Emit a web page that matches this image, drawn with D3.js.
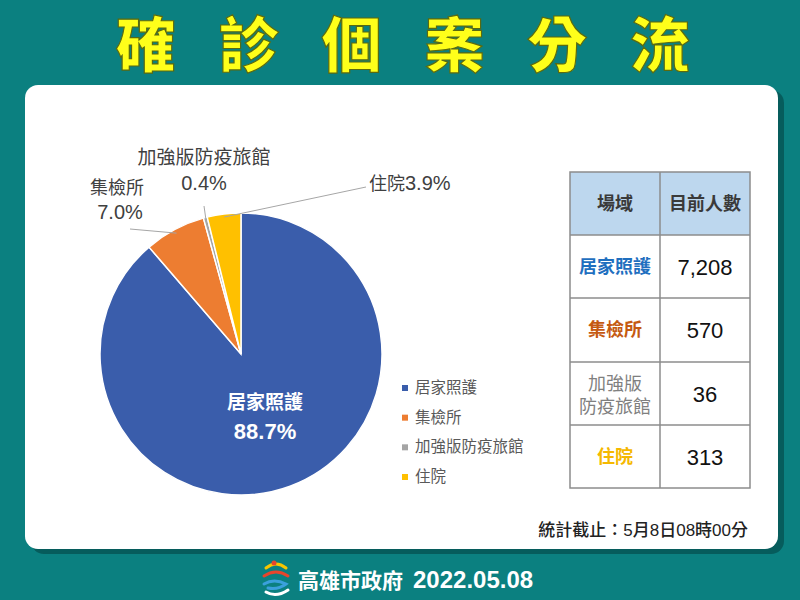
<!DOCTYPE html>
<html><head><meta charset="utf-8">
<script src="https://cdn.jsdelivr.net/npm/d3@7"></script>
<style>
body{margin:0;padding:0;background:#0b8080;}
svg{display:block;}
text{font-family:"Liberation Sans","Noto Sans CJK TC",sans-serif;}
</style></head>
<body>
<svg id="chart" width="800" height="600"></svg>
<script>
const categories = ["居家照護","集檢所","加強版防疫旅館","住院"];
const values = [7208, 570, 36, 313];
const percentLabels = ["88.7%","7.0%","0.4%","3.9%"];
const colors = ["#3a5dab","#ed7d31","#a5a5a5","#ffc000"];
const tableLabelColors = ["#1f6fbf","#c55a11","#7f7f7f","#f5b800"];
const tableHeaders = ["場域","目前人數"];
const titleText = "確診個案分流";
const noteText = "統計截止：5月8日08時00分";
const footerName = "高雄市政府";
const footerDate = "2022.05.08";

const svg = d3.select("#chart");
svg.append("rect").attr("width",800).attr("height",600).attr("fill","#0b8080");

// title
const titleChars = Array.from(titleText);
const tx = d3.scaleLinear().domain([0,titleChars.length-1]).range([146,660]);
svg.append("g").selectAll("text").data(titleChars).join("text")
  .attr("x",(d,i)=>tx(i)).attr("y",67)
  .attr("text-anchor","middle")
  .attr("font-family","Noto Sans CJK TC")
  .attr("font-size",60).attr("font-weight",900)
  .attr("fill","#ffff1a").attr("stroke","#5a6a10").attr("stroke-width",1.2)
  .text(d=>d);

// card shadow + card
svg.append("rect").attr("x",31).attr("y",90).attr("width",753).attr("height",464).attr("rx",13).attr("fill","#065c5c");
svg.append("rect").attr("x",25).attr("y",85).attr("width",753).attr("height",464).attr("rx",13).attr("fill","#ffffff");

// pie
const cx=241, cy=354, R=141;
const pie = d3.pie().sort(null).value(d=>d)(values);
const arc = d3.arc().innerRadius(0).outerRadius(R);
const g = svg.append("g").attr("transform",`translate(${cx},${cy})`);
g.selectAll("path").data(pie).join("path")
  .attr("d",arc).attr("fill",(d,i)=>colors[i])
  .attr("stroke","#fff").attr("stroke-width",1.5);

// inner label
g.append("text").attr("x",24).attr("y",55).attr("text-anchor","middle")
  .attr("font-size",19).attr("font-weight",700).attr("fill","#fff").text(categories[0]);
g.append("text").attr("x",24).attr("y",85).attr("text-anchor","middle")
  .attr("font-size",22).attr("font-weight",700).attr("fill","#fff").text(percentLabels[0]);

// leader lines
const pt = (i,r)=>{const a=(pie[i].startAngle+pie[i].endAngle)/2; return [cx+Math.sin(a)*r, cy-Math.cos(a)*r];};
const lineCol="#a6a6a6";
{
  const p=pt(1,R-4);
  svg.append("polyline").attr("points",`130,229 ${p[0]},${p[1]}`).attr("fill","none").attr("stroke",lineCol).attr("stroke-width",1);
  const q=pt(2,R-3);
  svg.append("polyline").attr("points",`204,206 ${q[0]},${q[1]}`).attr("fill","none").attr("stroke",lineCol).attr("stroke-width",1);
  const s=pt(3,R-3);
  svg.append("polyline").attr("points",`366,187 ${s[0]},${s[1]}`).attr("fill","none").attr("stroke",lineCol).attr("stroke-width",1);
}

// outside labels
const lab = svg.append("g").attr("fill","#404040").attr("font-size",19);
lab.append("text").attr("x",204).attr("y",164).attr("text-anchor","middle").text(categories[2]);
lab.append("text").attr("x",204).attr("y",190).attr("text-anchor","middle").attr("font-size",20).text(percentLabels[2]);
lab.append("text").attr("x",117).attr("y",194).attr("text-anchor","middle").attr("font-size",18).text(categories[1]);
lab.append("text").attr("x",120).attr("y",219).attr("text-anchor","middle").attr("font-size",20).text(percentLabels[1]);
lab.append("text").attr("x",369).attr("y",190).attr("font-size",18).text(categories[3]);
lab.append("text").attr("x",405).attr("y",190).attr("font-size",20).text(percentLabels[3]);

// legend
const ly = d3.scalePoint().domain(categories).range([388,477]);
const leg = svg.append("g");
leg.selectAll("rect").data(categories).join("rect")
  .attr("x",402).attr("y",d=>ly(d)-3).attr("width",6).attr("height",6)
  .attr("fill",(d,i)=>colors[i]);
leg.selectAll("text").data(categories).join("text")
  .attr("x",415).attr("y",d=>ly(d)+5).attr("font-size",15.5).attr("fill","#595959").text(d=>d);

// table
const tL=570, tM=660, tR=750;
const rowY=[172,235,298,362,425,488];
const tg = svg.append("g");
tg.append("rect").attr("x",tL).attr("y",rowY[0]).attr("width",tR-tL).attr("height",rowY[1]-rowY[0]).attr("fill","#bdd7ee");
tg.append("rect").attr("x",tL).attr("y",rowY[0]).attr("width",tR-tL).attr("height",rowY[5]-rowY[0]).attr("fill","none").attr("stroke","#8c8c8c").attr("stroke-width",1.5);
rowY.slice(1,5).forEach(y=>tg.append("line").attr("x1",tL).attr("x2",tR).attr("y1",y).attr("y2",y).attr("stroke","#8c8c8c").attr("stroke-width",1.5));
tg.append("line").attr("x1",tM).attr("x2",tM).attr("y1",rowY[0]).attr("y2",rowY[5]).attr("stroke","#8c8c8c").attr("stroke-width",1.5);
tg.append("text").attr("x",(tL+tM)/2).attr("y",210).attr("text-anchor","middle").attr("font-size",18).attr("font-weight",700).attr("fill","#3a3a3a").text(tableHeaders[0]);
tg.append("text").attr("x",(tM+tR)/2).attr("y",210).attr("text-anchor","middle").attr("font-size",18).attr("font-weight",700).attr("fill","#3a3a3a").text(tableHeaders[1]);
const fmt = d3.format(",");
categories.forEach((c,i)=>{
  const ym=(rowY[i+1]+rowY[i+2])/2;
  if(c.length>4){
    tg.append("text").attr("x",(tL+tM)/2).attr("y",ym-4).attr("text-anchor","middle").attr("font-size",18).attr("fill",tableLabelColors[i]).text(c.slice(0,3));
    tg.append("text").attr("x",(tL+tM)/2).attr("y",ym+19).attr("text-anchor","middle").attr("font-size",18).attr("fill",tableLabelColors[i]).text(c.slice(3));
  } else {
    tg.append("text").attr("x",(tL+tM)/2).attr("y",ym+6).attr("text-anchor","middle").attr("font-size",18).attr("font-weight",700).attr("fill",tableLabelColors[i]).text(c);
  }
  tg.append("text").attr("x",(tM+tR)/2).attr("y",ym+8).attr("text-anchor","middle").attr("font-size",22).attr("fill","#111").text(fmt(values[i]));
});

// note
svg.append("text").attr("x",748).attr("y",536).attr("text-anchor","end").attr("font-size",17).attr("font-weight",500).attr("fill","#222").text(noteText);

// footer logo (simple swirl)
const logo = svg.append("g").attr("transform","translate(276,580)").attr("fill","none").attr("stroke-width",3).attr("stroke-linecap","round");
logo.append("path").attr("d","M-10,-12 Q0,-20 10,-12").attr("stroke","#f7c600");
logo.append("path").attr("d","M-12,-4 Q0,-12 12,-4").attr("stroke","#e8452c");
logo.append("path").attr("d","M-12,4 Q-2,-2 10,4 Q2,10 -8,8").attr("stroke","#3aa0dc");
logo.append("path").attr("d","M-10,12 Q0,18 12,10").attr("stroke","#ffffff");
logo.append("circle").attr("cx",-2).attr("cy",-17).attr("r",2.5).attr("fill","#e8452c").attr("stroke","none");

const ft = svg.append("text").attr("x",298).attr("y",588).attr("font-size",21).attr("font-weight",700).attr("fill","#fff");
ft.append("tspan").text(footerName);
ft.append("tspan").attr("dx",10).attr("font-size",24).text(footerDate);
</script>
</body></html>
